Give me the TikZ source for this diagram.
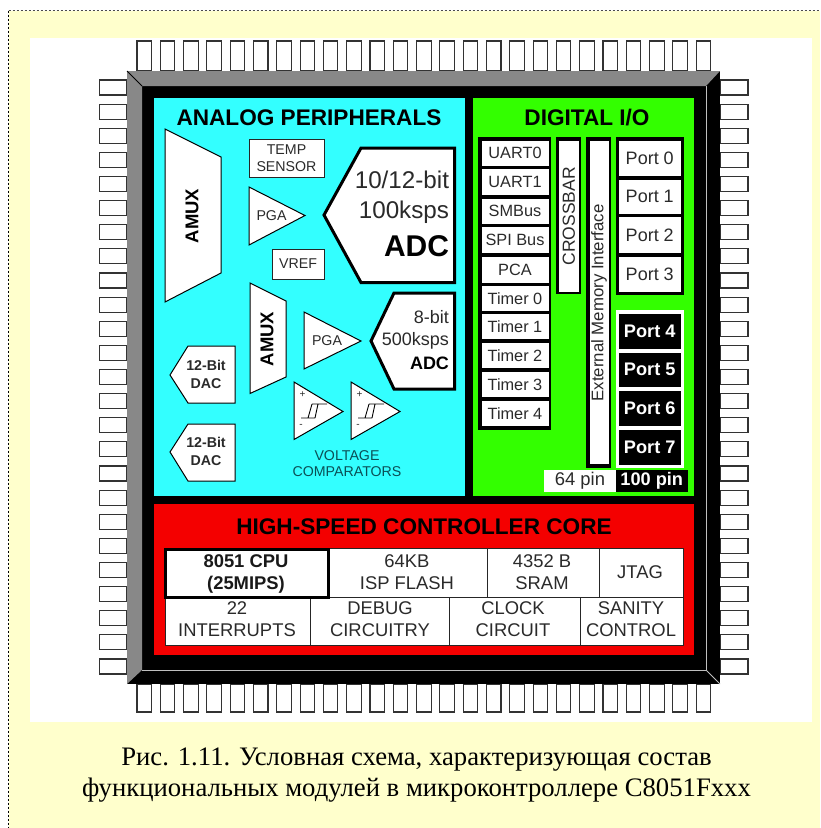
\documentclass[tikz,border=0pt]{standalone}
\usepackage{fontspec}
\setmainfont{Liberation Sans}
\newfontfamily\capfont{Liberation Serif}
\definecolor{pagey}{HTML}{FFFFCC}
\definecolor{chipgray}{HTML}{888888}
\definecolor{anacyan}{HTML}{33FFFF}
\definecolor{diggreen}{HTML}{33FF00}
\definecolor{corered}{HTML}{F40000}
\definecolor{inktext}{HTML}{2A2A2A}
\definecolor{tealtext}{HTML}{0B4F55}
\newcommand{\fsz}[2]{\fontsize{#1}{#2}\selectfont}
\tikzset{
  pinbox/.style={draw=black!80,fill=white,line width=1.05pt},
  panel/.style={fill=#1},
  whitebox/.style={draw=black!85,fill=white,line width=1pt},
  thinpoly/.style={draw=black,fill=white,line width=1pt,line join=miter},
  thickpoly/.style={draw=black,fill=white,line width=3pt,line join=miter},
  blackblock/.style={fill=black},
  txt/.style={inner sep=0pt,outer sep=0pt,align=center,text=inktext},
  title/.style={txt,text=black,font=\bfseries\fsz{22.6}{26}},
  small/.style={txt,font=\fsz{14.2}{16.5}},
  amuxtxt/.style={txt,text=black,rotate=90,font=\bfseries\fsz{18.5}{20}},
  list/.style={txt,font=\fsz{16.3}{18}},
  vert/.style={txt,rotate=90},
  porttxt/.style={txt,font=\fsz{18}{20}},
  darkport/.style={txt,text=white,font=\bfseries\fsz{18.2}{20}},
  tabletxt/.style={txt,font=\fsz{18.4}{22}},
  adcnum/.style={txt,anchor=east},
}
\begin{document}
\begin{tikzpicture}[x=1pt,y=-1pt]
\useasboundingbox (0,0) rectangle (820,828);
% page
\fill[white] (0,0) rectangle (820,828);
\fill[pagey] (8.5,10.5) rectangle (820,828);
\fill[white] (30,38) rectangle (812,722);
\draw[black!70,line width=1pt,dash pattern=on 2pt off 2pt] (8.5,10.5) -- (820,10.5);
\draw[black,line width=1pt,dash pattern=on 2pt off 2pt] (8.5,10.5) -- (8.5,828);
% pins
\foreach \i in {0,...,24}{
  \pgfmathsetmacro{\px}{137+23.3*\i}
  \draw[pinbox] (\px,41) rectangle (\px+14.5,71);
  \draw[pinbox] (\px,684) rectangle (\px+14.5,712);
  \pgfmathsetmacro{\py}{80+24.125*\i}
  \draw[pinbox] (99.5,\py) rectangle (127,\py+15);
  \draw[pinbox] (720,\py) rectangle (748,\py+15);
}
% chip body
\fill[black] (127,71) rectangle (720,684);
\fill[chipgray] (127,71) -- (720,71) -- (706,86) -- (142,86) -- cycle;
\fill[chipgray] (127,71) -- (142,86) -- (142,670) -- (127,684) -- cycle;
\draw[black,line width=.8pt] (127,71) -- (142,86);
\draw[black!25,line width=1pt] (706,86) -- (706,670) -- (142,670);
\draw[black!25,line width=1pt] (706,670) -- (720,684);
% panels
\fill[panel=anacyan] (154,98) rectangle (465,496);
\fill[panel=diggreen] (472.5,98) rectangle (693.5,496);
\fill[panel=corered] (154,504) rectangle (693.5,655);
\node[title] (anatitle) at (309,118) {ANALOG PERIPHERALS};
\node[title] (digtitle) at (587,118) {DIGITAL I/O};
\node[title] (coretitle) at (424,527) {HIGH-SPEED CONTROLLER CORE};
% analog
\draw[thinpoly] (165,129) -- (221,157) -- (221,273) -- (165,302) -- cycle;
\node[amuxtxt] (amuxa) at (192,216) {AMUX};
\draw[whitebox] (249,139) rectangle node[small] (temp) {TEMP\\SENSOR} (324,177);
\draw[thinpoly] (249,187) -- (305,215.5) -- (249,245) -- cycle;
\node[small] (pgaa) at (271.5,215.5) {PGA};
\draw[whitebox] (272,249) rectangle node[small] (vref) {VREF} (324,279);
\draw[thickpoly] (361,148) -- (454.5,148) -- (454.5,282.5) -- (361,282.5) -- (324,215) -- cycle;
\node[adcnum,font=\fsz{24.2}{26}] (adca) at (449,180) {10/12-bit};
\node[adcnum,font=\fsz{24.2}{26}] (adcb) at (449,212) {100ksps};
\node[adcnum,text=black,font=\bfseries\fsz{30}{32}] (adcc) at (449,246) {ADC};
\draw[thinpoly] (250,283) -- (286,301) -- (286,377) -- (250,393.5) -- cycle;
\node[amuxtxt] (amuxb) at (267,339) {AMUX};
\draw[thinpoly] (304,312) -- (361,341) -- (304,369) -- cycle;
\node[small] (pgab) at (327,341) {PGA};
\draw[thickpoly] (394,293) -- (454.5,293) -- (454.5,389) -- (394,389) -- (371,341) -- cycle;
\node[adcnum,font=\fsz{18}{20}] (adcd) at (449,317.5) {8-bit};
\node[adcnum,font=\fsz{18}{20}] (adce) at (449,341) {500ksps};
\node[adcnum,text=black,font=\bfseries\fsz{18}{20}] (adcf) at (449,363) {ADC};
\draw[thinpoly] (188,346) -- (235,346) -- (235,403) -- (188,403) -- (170,375) -- cycle;
\node[txt,font=\bfseries\fsz{14.2}{18}] (daca) at (206,374) {12-Bit\\DAC};
\draw[thinpoly] (188,424) -- (235,424) -- (235,481) -- (188,481) -- (170,452) -- cycle;
\node[txt,font=\bfseries\fsz{14.2}{18}] (dacb) at (206,451.5) {12-Bit\\DAC};
\foreach \dx in {0,57}{
  \draw[thinpoly] (294+\dx,382) -- (343+\dx,411.5) -- (294+\dx,439.5) -- cycle;
  \draw[black,line width=.9pt] (301+\dx,418) -- (315+\dx,418) (308+\dx,418) -- (312+\dx,404) (315+\dx,418) -- (318+\dx,404) (312+\dx,404) -- (327+\dx,404);
  \node[txt,font=\fsz{10}{10}] at (302.5+\dx,395) {+};
  \node[txt,font=\fsz{10}{10}] at (301+\dx,426) {-};
}
\node[small,text=tealtext] (comps) at (347,463.5) {VOLTAGE\\COMPARATORS};
% digital left column
\fill[blackblock] (477.5,137) rectangle (551,430);
\foreach \ya/\yb/\t/\n in {141/165.5/UART0/ua,169/195/UART1/ub,198.5/224/SMBus/sm,227/253/SPI Bus/sp,257/283/PCA/pc,286/310.5/Timer 0/ta,314/339/Timer 1/tb,343/368/Timer 2/tc,372/397/Timer 3/td,400.5/426/Timer 4/te}{
  \path[fill=white] (481.5,\ya) rectangle node[list] (\n) {\t} (548.5,\yb);
}
\fill[blackblock] (555.5,137) rectangle (581,294);
\path[fill=white] (558.5,141) rectangle node[vert,font=\fsz{17.5}{20}] (xbar) {CROSSBAR} (579,291.5);
\fill[blackblock] (586,137) rectangle (611,468);
\path[fill=white] (589.5,141) rectangle (609,464);
\node[vert,font=\fsz{16.8}{20}] (emi) at (599,303) {External Memory Interface};
% ports
\fill[blackblock] (616,137) rectangle (684,295);
\foreach \ya/\yb/\t/\n in {141/175.5/Port 0/pa,179.5/214/Port 1/pb,217/253/Port 2/pc2,257/291.5/Port 3/pd}{
  \path[fill=white] (618.5,\ya) rectangle node[porttxt] (\n) {\t} (681,\yb);
}
\fill[white] (616,310) rectangle (684,468);
\foreach \ya/\yb/\t/\n in {314/348.5/Port 4/pe,352.5/387/Port 5/pf,391/425.5/Port 6/pg,430/464.5/Port 7/ph}{
  \path[fill=black] (618.5,\ya) rectangle node[darkport] (\n) {\t} (681,\yb);
}
\path[fill=white] (544,470) rectangle node[txt,font=\fsz{18.4}{20}] (p64) {64 pin} (616,492);
\path[fill=black] (616,470) rectangle node[txt,text=white,font=\bfseries\fsz{18.2}{20}] (p100) {100 pin} (687.5,492);
% core table
\fill[white] (165,548) rectangle (683,645);
\draw[black!85,line width=1pt] (165,548) rectangle (683,645);
\draw[black!85,line width=1pt] (165,597) -- (683,597);
\draw[black!85,line width=1pt] (487,548) -- (487,597) (599,548) -- (599,597);
\draw[black!85,line width=1pt] (310,597) -- (310,645) (449,597) -- (449,645) (580,597) -- (580,645);
\draw[black,line width=3pt] (165,549) rectangle (328,597.5);
\node[tabletxt,text=black!90,font=\bfseries\fsz{18.4}{22}] (cpu) at (246,573.5) {8051 CPU\\(25MIPS)};
\node[tabletxt] (flash) at (407,572) {64KB\\ISP FLASH};
\node[tabletxt] (sram) at (542,572) {4352 B\\SRAM};
\node[tabletxt] (jtag) at (640,572) {JTAG};
\node[tabletxt] (irq) at (237,619) {22\\INTERRUPTS};
\node[tabletxt] (dbg) at (380,619) {DEBUG\\CIRCUITRY};
\node[tabletxt] (clk) at (513,619) {CLOCK\\CIRCUIT};
\node[tabletxt] (san) at (631,619) {SANITY\\CONTROL};
% caption
\node[txt,text=black,font=\capfont\fsz{26.7}{31}] (cap) at (416.5,775) {Рис. 1.11. Условная схема, характеризующая состав\\функциональных модулей в микроконтроллере C8051Fxxx};
\end{tikzpicture}
\end{document}
